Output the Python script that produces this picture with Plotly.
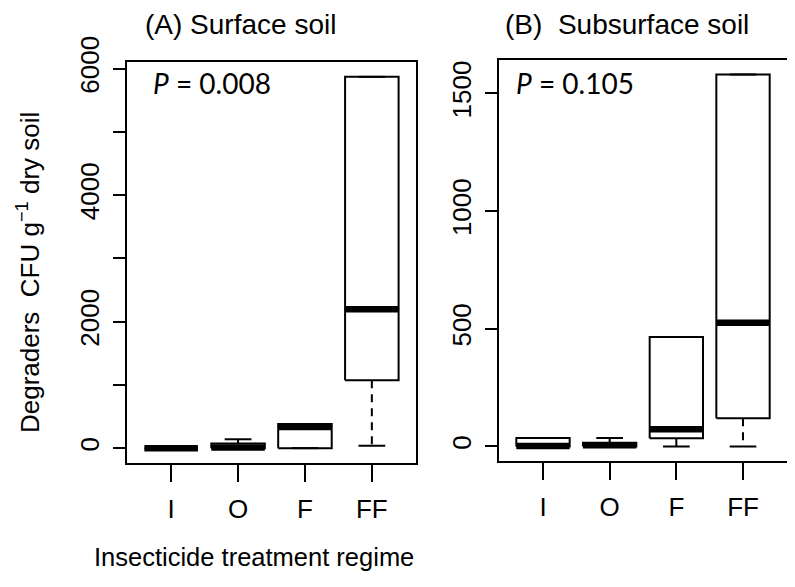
import plotly.graph_objects as go

# ---------------- data ----------------
categories = ["I", "O", "F", "FF"]

# (A) Surface soil: five-number summaries
surf_min = [0, 0, 0, 38]
surf_q1 = [0, 0, 0, 1074]
surf_med = [0, 10, 335, 2195]
surf_q3 = [10, 75, 380, 5870]
surf_max = [10, 140, 380, 5870]

# (B) Subsurface soil
sub_min = [0, 0, 0, 0]
sub_q1 = [0, 0, 35, 120]
sub_med = [2, 5, 73, 525]
sub_q3 = [36, 15, 465, 1580]
sub_max = [36, 36, 465, 1580]

surf_tickvals = [0, 2000, 4000, 6000]
surf_ticktext = ["0", "2000", "4000", "6000"]
surf_minor_ticks = [1000, 3000, 5000]
sub_tickvals = [0, 500, 1000, 1500]
sub_ticktext = ["0", "500", "1000", "1500"]

p_surface = "0.008"
p_subsurface = "0.105"

FONT = "Liberation Sans, Arial, sans-serif"
BOXW = 0.4   # half box width (R boxwex 0.8)
CAPW = 0.2   # half staple width


def box_traces(mins, q1s, meds, q3s, maxs, xa, ya):
    bx, by, mx, my, wx, wy, cx, cy = [], [], [], [], [], [], [], []
    for i, _ in enumerate(categories):
        c = i + 1
        bx += [c - BOXW, c + BOXW, c + BOXW, c - BOXW, c - BOXW, None]
        by += [q1s[i], q1s[i], q3s[i], q3s[i], q1s[i], None]
        mx += [c - BOXW, c + BOXW, None]
        my += [meds[i], meds[i], None]
        if maxs[i] > q3s[i]:
            wx += [c, c, None]
            wy += [q3s[i], maxs[i], None]
        if mins[i] < q1s[i]:
            wx += [c, c, None]
            wy += [q1s[i], mins[i], None]
        cx += [c - CAPW, c + CAPW, None, c - CAPW, c + CAPW, None]
        cy += [mins[i], mins[i], None, maxs[i], maxs[i], None]
    common = dict(mode="lines", xaxis=xa, yaxis=ya, showlegend=False, hoverinfo="skip")
    return [
        go.Scatter(x=wx, y=wy, line=dict(color="black", width=2, dash="8px,6px"), **common),
        go.Scatter(x=cx, y=cy, line=dict(color="black", width=2), **common),
        go.Scatter(x=bx, y=by, line=dict(color="black", width=2), **common),
        go.Scatter(x=mx, y=my, line=dict(color="black", width=6.5), **common),
    ]


fig = go.Figure()
for t in box_traces(surf_min, surf_q1, surf_med, surf_q3, surf_max, "x", "y"):
    fig.add_trace(t)
for t in box_traces(sub_min, sub_q1, sub_med, sub_q3, sub_max, "x2", "y2"):
    fig.add_trace(t)


def yrange(mins, maxs):
    lo, hi = min(mins), max(maxs)
    pad = 0.04 * (hi - lo)
    return [lo - pad, hi + pad]


xcommon = dict(
    range=[0.34, 4.66], tickvals=[1, 2, 3, 4], ticktext=categories,
    showline=True, mirror=True, linecolor="black", linewidth=2,
    ticks="outside", ticklen=17, tickwidth=1.5, tickcolor="black",
    showgrid=False, zeroline=False, automargin=False,
    tickfont=dict(family=FONT, size=26, color="black"),
    ticklabelstandoff=5,
)
ycommon = dict(
    showline=True, mirror=True, linecolor="black", linewidth=2,
    ticks="outside", ticklen=12, tickwidth=1.5, tickcolor="black",
    showgrid=False, zeroline=False, tickangle=-90, automargin=False,
    tickfont=dict(family=FONT, size=26, color="black"),
    ticklabelstandoff=4,
)

fig.update_layout(
    template="none",
    width=795, height=587,
    margin=dict(l=0, r=0, t=0, b=0, autoexpand=False),
    paper_bgcolor="white", plot_bgcolor="white",
    xaxis=dict(domain=[0.1497, 0.5132], anchor="y", **xcommon),
    yaxis=dict(domain=[0.2249, 0.9080], anchor="x", range=yrange(surf_min, surf_max),
               tickvals=surf_tickvals, ticktext=surf_ticktext,
               minor=dict(tickvals=surf_minor_ticks, ticks="outside", ticklen=12,
                          tickwidth=1.5, tickcolor="black", showgrid=False),
               **ycommon),
    xaxis2=dict(domain=[0.6176, 0.9799], anchor="y2", **xcommon),
    yaxis2=dict(domain=[0.2278, 0.9119], anchor="x2", range=yrange(sub_min, sub_max),
                tickvals=sub_tickvals, ticktext=sub_ticktext, **ycommon),
    annotations=[
        dict(text="(A) Surface soil", x=0.293, y=0.972, xref="paper", yref="paper",
             xanchor="center", yanchor="middle",
             showarrow=False, font=dict(family=FONT, size=28, color="black")),
        dict(text="(B)\u00a0\u00a0Subsurface soil", x=0.778, y=0.972, xref="paper", yref="paper",
             xanchor="center", yanchor="middle",
             showarrow=False, font=dict(family=FONT, size=28, color="black")),
        dict(text="<i>P</i> = " + p_surface, x=0.18, y=0.872, xref="paper", yref="paper",
             xanchor="left", yanchor="middle", showarrow=False,
             font=dict(family="Lato, sans-serif", size=28, color="black")),
        dict(text="<i>P</i> = " + p_subsurface, x=0.637, y=0.872, xref="paper", yref="paper",
             xanchor="left", yanchor="middle", showarrow=False,
             font=dict(family="Lato, sans-serif", size=28, color="black")),
        dict(text="Degraders\u00a0\u00a0CFU g<sup>\u22121</sup> dry soil", x=0.025, y=0.55,
             xref="paper", yref="paper", textangle=-90, showarrow=False,
             xanchor="center", yanchor="middle",
             font=dict(family=FONT, size=26, color="black")),
        dict(text="Insecticide treatment regime", x=0.31, y=0.064, xref="paper", yref="paper",
             xanchor="center", yanchor="middle", showarrow=False,
             font=dict(family=FONT, size=25.5, color="black")),
    ],
)

fig.write_html("out.html")
